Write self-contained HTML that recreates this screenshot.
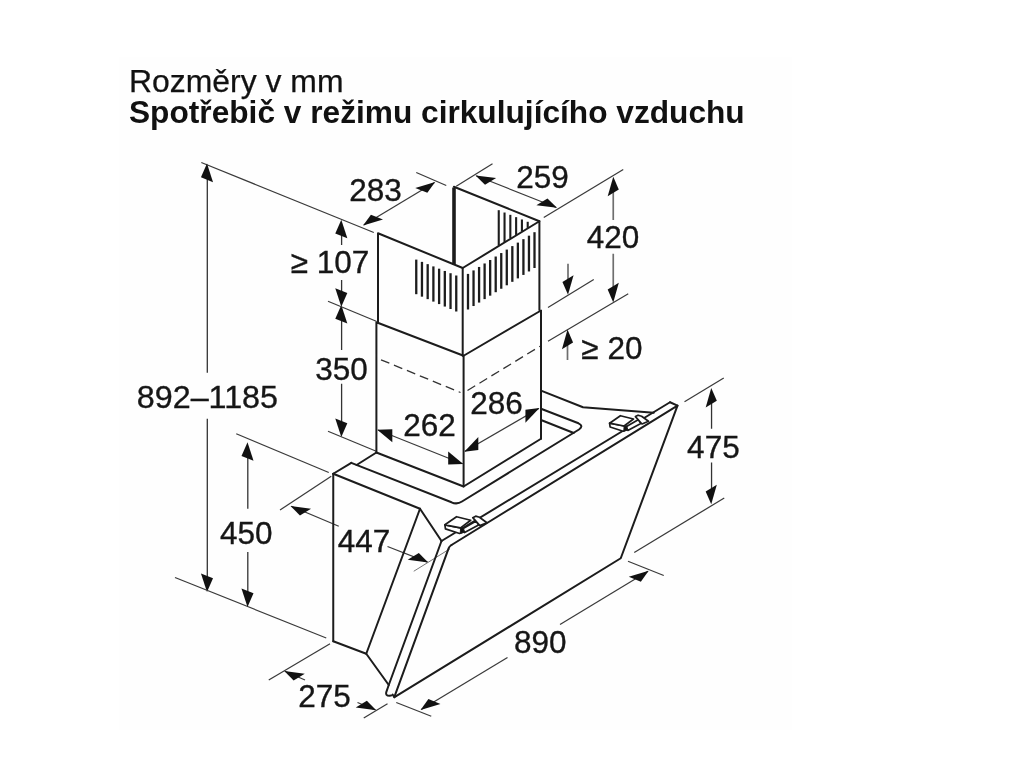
<!DOCTYPE html>
<html lang="cs">
<head>
<meta charset="utf-8">
<title>Rozměry v mm</title>
<style>
html,body{margin:0;padding:0;background:#fff;}
body{width:1024px;height:768px;overflow:hidden;position:relative;font-family:"Liberation Sans",sans-serif;}
.fig{position:absolute;left:0;top:0;width:1024px;height:768px;filter:blur(0.45px);}
.t1,.t2{filter:blur(0.45px);z-index:2;position:absolute;left:129px;margin:0;white-space:nowrap;color:#111;line-height:1;}
.t1{top:65.8px;font-size:30.5px;font-weight:normal;transform:scaleX(1.046);transform-origin:0 0;left:129.2px;-webkit-text-stroke:0.25px #111;}
.t2{top:96.6px;font-size:30.5px;font-weight:bold;transform:scaleX(1.038);transform-origin:0 0;left:129.4px;}
svg text{font-family:"Liberation Sans",sans-serif;fill:#161616;stroke:#161616;stroke-width:0.35px;}
</style>
</head>
<body>
<p class="t1">Rozměry v mm</p>
<p class="t2">Spotřebič v režimu cirkulujícího vzduchu</p>
<svg class="fig" width="1024" height="768" viewBox="0 0 1024 768">
<rect x="119" y="57" width="673" height="673" fill="#fefefe"/>
<line x1="201.30" y1="162.50" x2="373.80" y2="232.50" stroke="#3a3a3a" stroke-width="1.25" stroke-linecap="butt"/>
<line x1="207.30" y1="170.00" x2="207.30" y2="372.80" stroke="#333" stroke-width="1.3" stroke-linecap="butt"/>
<line x1="207.30" y1="418.75" x2="207.30" y2="585.00" stroke="#333" stroke-width="1.3" stroke-linecap="butt"/>
<polygon points="207.00,163.50 213.03,182.14 200.97,177.26" fill="#111" stroke="none"/>
<polygon points="207.00,592.05 213.03,578.29 200.97,573.41" fill="#111" stroke="none"/>
<line x1="175.00" y1="577.50" x2="326.25" y2="638.00" stroke="#3a3a3a" stroke-width="1.25" stroke-linecap="butt"/>
<line x1="341.60" y1="226.00" x2="341.60" y2="245.00" stroke="#333" stroke-width="1.3" stroke-linecap="butt"/>
<line x1="341.60" y1="280.00" x2="341.60" y2="300.00" stroke="#333" stroke-width="1.3" stroke-linecap="butt"/>
<polygon points="341.30,219.70 347.33,238.34 335.27,233.46" fill="#111" stroke="none"/>
<polygon points="341.30,306.80 347.33,293.04 335.27,288.16" fill="#111" stroke="none"/>
<line x1="341.60" y1="312.00" x2="341.60" y2="350.00" stroke="#333" stroke-width="1.3" stroke-linecap="butt"/>
<line x1="341.60" y1="383.75" x2="341.60" y2="430.00" stroke="#333" stroke-width="1.3" stroke-linecap="butt"/>
<polygon points="341.30,304.95 347.33,323.59 335.27,318.71" fill="#111" stroke="none"/>
<polygon points="341.30,437.05 347.33,423.29 335.27,418.41" fill="#111" stroke="none"/>
<line x1="328.00" y1="301.25" x2="376.25" y2="321.25" stroke="#3a3a3a" stroke-width="1.25" stroke-linecap="butt"/>
<line x1="328.00" y1="431.25" x2="376.25" y2="451.25" stroke="#3a3a3a" stroke-width="1.25" stroke-linecap="butt"/>
<line x1="363.75" y1="225.00" x2="434.50" y2="182.50" stroke="#3a3a3a" stroke-width="1.25" stroke-linecap="butt"/>
<polygon points="363.06,225.41 382.98,219.51 370.93,214.63" fill="#111" stroke="none"/>
<polygon points="435.19,182.09 427.32,192.87 415.27,187.99" fill="#111" stroke="none"/>
<line x1="416.25" y1="172.50" x2="446.25" y2="185.50" stroke="#3a3a3a" stroke-width="1.25" stroke-linecap="butt"/>
<line x1="476.25" y1="175.75" x2="556.25" y2="207.50" stroke="#3a3a3a" stroke-width="1.25" stroke-linecap="butt"/>
<polygon points="475.51,175.45 496.12,178.06 485.01,184.80" fill="#111" stroke="none"/>
<polygon points="556.99,207.80 547.49,198.45 536.38,205.19" fill="#111" stroke="none"/>
<line x1="456.25" y1="186.25" x2="492.50" y2="163.75" stroke="#3a3a3a" stroke-width="1.25" stroke-linecap="butt"/>
<line x1="543.75" y1="217.50" x2="623.25" y2="169.50" stroke="#3a3a3a" stroke-width="1.25" stroke-linecap="butt"/>
<line x1="613.25" y1="183.00" x2="613.25" y2="220.00" stroke="#6e6e6e" stroke-width="1.7" stroke-linecap="butt"/>
<line x1="613.25" y1="253.75" x2="613.25" y2="296.00" stroke="#6e6e6e" stroke-width="1.7" stroke-linecap="butt"/>
<polygon points="613.25,176.70 618.81,189.53 607.69,196.27" fill="#111" stroke="none"/>
<polygon points="613.25,302.40 618.81,282.83 607.69,289.57" fill="#111" stroke="none"/>
<line x1="548.00" y1="341.25" x2="628.25" y2="293.75" stroke="#3a3a3a" stroke-width="1.25" stroke-linecap="butt"/>
<line x1="548.00" y1="307.50" x2="593.75" y2="279.50" stroke="#3a3a3a" stroke-width="1.25" stroke-linecap="butt"/>
<line x1="568.00" y1="263.75" x2="568.00" y2="288.00" stroke="#6e6e6e" stroke-width="1.7" stroke-linecap="butt"/>
<polygon points="568.00,294.80 573.56,275.23 562.44,281.97" fill="#111" stroke="none"/>
<line x1="567.50" y1="337.00" x2="567.50" y2="360.00" stroke="#6e6e6e" stroke-width="1.7" stroke-linecap="butt"/>
<polygon points="567.50,329.60 573.06,342.43 561.94,349.17" fill="#111" stroke="none"/>
<line x1="378.00" y1="430.00" x2="462.50" y2="463.75" stroke="#3a3a3a" stroke-width="1.25" stroke-linecap="butt"/>
<polygon points="377.26,429.70 392.30,442.21 392.30,429.21" fill="#111" stroke="none"/>
<polygon points="463.24,464.05 448.20,464.54 448.20,451.54" fill="#111" stroke="none"/>
<line x1="465.00" y1="451.25" x2="538.75" y2="408.50" stroke="#3a3a3a" stroke-width="1.25" stroke-linecap="butt"/>
<polygon points="464.31,451.65 478.32,450.03 478.32,437.03" fill="#111" stroke="none"/>
<polygon points="539.44,408.10 525.43,422.72 525.43,409.72" fill="#111" stroke="none"/>
<line x1="711.55" y1="394.00" x2="711.55" y2="428.75" stroke="#333" stroke-width="1.3" stroke-linecap="butt"/>
<line x1="711.55" y1="462.50" x2="711.55" y2="498.00" stroke="#333" stroke-width="1.3" stroke-linecap="butt"/>
<polygon points="711.25,387.95 716.81,400.78 705.69,407.52" fill="#111" stroke="none"/>
<polygon points="711.25,504.30 716.81,484.73 705.69,491.47" fill="#111" stroke="none"/>
<line x1="684.50" y1="401.75" x2="723.75" y2="378.00" stroke="#3a3a3a" stroke-width="1.25" stroke-linecap="butt"/>
<line x1="634.25" y1="552.50" x2="724.25" y2="498.00" stroke="#3a3a3a" stroke-width="1.25" stroke-linecap="butt"/>
<line x1="247.80" y1="449.00" x2="247.80" y2="508.75" stroke="#333" stroke-width="1.3" stroke-linecap="butt"/>
<line x1="247.80" y1="552.00" x2="247.80" y2="600.00" stroke="#333" stroke-width="1.3" stroke-linecap="butt"/>
<polygon points="247.50,442.20 253.53,460.84 241.47,455.96" fill="#111" stroke="none"/>
<polygon points="247.50,607.05 253.53,593.29 241.47,588.41" fill="#111" stroke="none"/>
<line x1="236.25" y1="433.75" x2="328.75" y2="472.50" stroke="#3a3a3a" stroke-width="1.25" stroke-linecap="butt"/>
<line x1="291.25" y1="506.25" x2="338.75" y2="526.25" stroke="#3a3a3a" stroke-width="1.25" stroke-linecap="butt"/>
<line x1="387.50" y1="546.50" x2="427.50" y2="562.10" stroke="#3a3a3a" stroke-width="1.25" stroke-linecap="butt"/>
<polygon points="290.51,505.95 311.06,508.72 299.94,515.47" fill="#111" stroke="none"/>
<polygon points="428.24,562.40 418.81,552.88 407.69,559.63" fill="#111" stroke="none"/>
<line x1="331.25" y1="476.25" x2="280.00" y2="510.00" stroke="#3a3a3a" stroke-width="1.25" stroke-linecap="butt"/>
<line x1="413.75" y1="571.25" x2="450.00" y2="548.75" stroke="#777" stroke-width="1.0" stroke-linecap="butt"/>
<line x1="330.00" y1="643.75" x2="268.75" y2="680.00" stroke="#3a3a3a" stroke-width="1.25" stroke-linecap="butt"/>
<line x1="285.00" y1="671.25" x2="305.00" y2="680.00" stroke="#3a3a3a" stroke-width="1.25" stroke-linecap="butt"/>
<line x1="357.50" y1="702.50" x2="375.50" y2="710.00" stroke="#3a3a3a" stroke-width="1.25" stroke-linecap="butt"/>
<polygon points="284.26,670.94 304.76,673.84 293.64,680.59" fill="#111" stroke="none"/>
<polygon points="376.24,710.31 366.86,700.66 355.74,707.41" fill="#111" stroke="none"/>
<line x1="363.75" y1="718.00" x2="387.50" y2="703.75" stroke="#3a3a3a" stroke-width="1.25" stroke-linecap="butt"/>
<line x1="421.25" y1="709.50" x2="507.50" y2="657.50" stroke="#3a3a3a" stroke-width="1.25" stroke-linecap="butt"/>
<line x1="560.00" y1="624.50" x2="648.00" y2="571.25" stroke="#3a3a3a" stroke-width="1.25" stroke-linecap="butt"/>
<polygon points="420.56,709.91 440.46,703.99 428.41,699.10" fill="#111" stroke="none"/>
<polygon points="648.68,570.84 640.85,581.67 628.80,576.78" fill="#111" stroke="none"/>
<line x1="396.25" y1="702.50" x2="431.25" y2="716.25" stroke="#3a3a3a" stroke-width="1.25" stroke-linecap="butt"/>
<line x1="628.00" y1="561.25" x2="663.75" y2="575.50" stroke="#3a3a3a" stroke-width="1.25" stroke-linecap="butt"/>
<polyline points="378.00,322.50 378.00,233.25 462.70,268.00 539.40,221.25 539.40,310.00" fill="none" stroke="#1c1c1c" stroke-width="2.0" stroke-linejoin="round" stroke-linecap="round"/>
<line x1="462.70" y1="268.00" x2="462.70" y2="355.75" stroke="#1c1c1c" stroke-width="2.0" stroke-linecap="round"/>
<line x1="453.90" y1="186.75" x2="539.40" y2="221.25" stroke="#1c1c1c" stroke-width="2.0" stroke-linecap="round"/>
<line x1="454.00" y1="187.50" x2="454.00" y2="264.50" stroke="#1c1c1c" stroke-width="3.6" stroke-linecap="butt"/>
<polyline points="376.40,452.50 376.40,322.20 463.60,355.75 541.00,310.50 541.00,438.75" fill="none" stroke="#1c1c1c" stroke-width="2.0" stroke-linejoin="round" stroke-linecap="round"/>
<line x1="463.60" y1="355.75" x2="463.60" y2="486.50" stroke="#1c1c1c" stroke-width="2.0" stroke-linecap="round"/>
<polyline points="376.40,452.50 463.60,486.50 541.00,438.75" fill="none" stroke="#1c1c1c" stroke-width="2.0" stroke-linejoin="round" stroke-linecap="round"/>
<line x1="381.00" y1="359.80" x2="460.50" y2="392.50" stroke="#333" stroke-width="1.3" stroke-linecap="butt" stroke-dasharray="9 5"/>
<line x1="467.50" y1="390.50" x2="540.00" y2="346.25" stroke="#333" stroke-width="1.3" stroke-linecap="butt" stroke-dasharray="9 5"/>
<line x1="416.25" y1="259.60" x2="416.25" y2="294.20" stroke="#1c1c1c" stroke-width="2.3" stroke-linecap="butt"/>
<line x1="421.96" y1="261.87" x2="421.96" y2="296.67" stroke="#1c1c1c" stroke-width="2.3" stroke-linecap="butt"/>
<line x1="427.68" y1="264.14" x2="427.68" y2="299.14" stroke="#1c1c1c" stroke-width="2.3" stroke-linecap="butt"/>
<line x1="433.39" y1="266.41" x2="433.39" y2="301.61" stroke="#1c1c1c" stroke-width="2.3" stroke-linecap="butt"/>
<line x1="439.11" y1="268.69" x2="439.11" y2="304.09" stroke="#1c1c1c" stroke-width="2.3" stroke-linecap="butt"/>
<line x1="444.82" y1="270.96" x2="444.82" y2="306.56" stroke="#1c1c1c" stroke-width="2.3" stroke-linecap="butt"/>
<line x1="450.54" y1="273.23" x2="450.54" y2="309.03" stroke="#1c1c1c" stroke-width="2.3" stroke-linecap="butt"/>
<line x1="456.25" y1="275.50" x2="456.25" y2="311.50" stroke="#1c1c1c" stroke-width="2.3" stroke-linecap="butt"/>
<line x1="468.00" y1="273.90" x2="468.00" y2="309.50" stroke="#1c1c1c" stroke-width="2.3" stroke-linecap="butt"/>
<line x1="473.54" y1="270.42" x2="473.54" y2="306.04" stroke="#1c1c1c" stroke-width="2.3" stroke-linecap="butt"/>
<line x1="479.08" y1="266.95" x2="479.08" y2="302.58" stroke="#1c1c1c" stroke-width="2.3" stroke-linecap="butt"/>
<line x1="484.62" y1="263.47" x2="484.62" y2="299.12" stroke="#1c1c1c" stroke-width="2.3" stroke-linecap="butt"/>
<line x1="490.17" y1="260.00" x2="490.17" y2="295.67" stroke="#1c1c1c" stroke-width="2.3" stroke-linecap="butt"/>
<line x1="495.71" y1="256.52" x2="495.71" y2="292.21" stroke="#1c1c1c" stroke-width="2.3" stroke-linecap="butt"/>
<line x1="501.25" y1="253.05" x2="501.25" y2="288.75" stroke="#1c1c1c" stroke-width="2.3" stroke-linecap="butt"/>
<line x1="506.79" y1="249.57" x2="506.79" y2="285.29" stroke="#1c1c1c" stroke-width="2.3" stroke-linecap="butt"/>
<line x1="512.33" y1="246.10" x2="512.33" y2="281.83" stroke="#1c1c1c" stroke-width="2.3" stroke-linecap="butt"/>
<line x1="517.88" y1="242.62" x2="517.88" y2="278.38" stroke="#1c1c1c" stroke-width="2.3" stroke-linecap="butt"/>
<line x1="523.42" y1="239.15" x2="523.42" y2="274.92" stroke="#1c1c1c" stroke-width="2.3" stroke-linecap="butt"/>
<line x1="528.96" y1="235.67" x2="528.96" y2="271.46" stroke="#1c1c1c" stroke-width="2.3" stroke-linecap="butt"/>
<line x1="534.50" y1="232.20" x2="534.50" y2="268.00" stroke="#1c1c1c" stroke-width="2.3" stroke-linecap="butt"/>
<line x1="498.75" y1="210.20" x2="498.75" y2="245.50" stroke="#1c1c1c" stroke-width="2.1" stroke-linecap="butt"/>
<line x1="504.54" y1="212.52" x2="504.54" y2="242.00" stroke="#1c1c1c" stroke-width="2.1" stroke-linecap="butt"/>
<line x1="510.33" y1="214.83" x2="510.33" y2="238.47" stroke="#1c1c1c" stroke-width="2.1" stroke-linecap="butt"/>
<line x1="516.12" y1="217.15" x2="516.12" y2="234.94" stroke="#1c1c1c" stroke-width="2.1" stroke-linecap="butt"/>
<line x1="521.92" y1="219.47" x2="521.92" y2="231.41" stroke="#1c1c1c" stroke-width="2.1" stroke-linecap="butt"/>
<line x1="527.71" y1="221.78" x2="527.71" y2="227.88" stroke="#1c1c1c" stroke-width="2.1" stroke-linecap="butt"/>
<line x1="533.50" y1="224.10" x2="533.50" y2="224.35" stroke="#1c1c1c" stroke-width="2.1" stroke-linecap="butt"/>
<line x1="333.25" y1="473.75" x2="333.25" y2="641.25" stroke="#1c1c1c" stroke-width="2.0" stroke-linecap="round"/>
<polyline points="333.25,473.75 351.30,462.90" fill="none" stroke="#1c1c1c" stroke-width="2.0" stroke-linejoin="round" stroke-linecap="round"/>
<path d="M351.3,462.9 L451.5,502.3 Q457,504.8 462,501.5 L579,429.5 Q584,426 578.5,423.3 L541,408.75" fill="none" stroke="#1c1c1c" stroke-width="2.0" stroke-linejoin="round" stroke-linecap="round"/>
<line x1="356.60" y1="465.00" x2="376.40" y2="452.50" stroke="#1c1c1c" stroke-width="2.0" stroke-linecap="round"/>
<line x1="541.00" y1="420.00" x2="573.75" y2="433.00" stroke="#1c1c1c" stroke-width="2.0" stroke-linecap="round"/>
<polyline points="333.25,473.75 420.00,508.75 441.50,541.00" fill="none" stroke="#1c1c1c" stroke-width="2.0" stroke-linejoin="round" stroke-linecap="round"/>
<line x1="420.00" y1="508.75" x2="366.25" y2="653.75" stroke="#1c1c1c" stroke-width="2.0" stroke-linecap="round"/>
<polyline points="333.25,641.25 366.25,653.75 388.75,685.00" fill="none" stroke="#1c1c1c" stroke-width="2.0" stroke-linejoin="round" stroke-linecap="round"/>
<path d="M441.5,541 L388.75,685 L386.2,692.3 Q385.4,695.8 389.3,695.8 L391.2,695.5" fill="none" stroke="#1c1c1c" stroke-width="2.0" stroke-linejoin="round" stroke-linecap="round"/>
<path d="M451.5,545 Q449.3,546.3 448.6,548.3 L394.3,697.2 L392.6,694.5" fill="none" stroke="#1c1c1c" stroke-width="2.0" stroke-linejoin="round" stroke-linecap="round"/>
<line x1="441.50" y1="541.00" x2="670.00" y2="402.25" stroke="#1c1c1c" stroke-width="2.0" stroke-linecap="round"/>
<polyline points="451.50,545.00 677.50,405.60 620.75,558.25 394.50,697.20" fill="none" stroke="#1c1c1c" stroke-width="2.0" stroke-linejoin="round" stroke-linecap="round"/>
<line x1="670.00" y1="402.25" x2="677.50" y2="405.60" stroke="#1c1c1c" stroke-width="2.0" stroke-linecap="round"/>
<polyline points="541.00,390.60 583.00,407.25 653.75,412.75" fill="none" stroke="#1c1c1c" stroke-width="2.0" stroke-linejoin="round" stroke-linecap="round"/>
<polygon points="609.60,423.20 610.10,427.00 623.20,431.20 627.20,429.80 624.10,426.00" fill="#fff" stroke="#1c1c1c" stroke-width="1.7" stroke-linejoin="round"/>
<polygon points="626.10,426.80 638.60,419.60 640.80,423.50 627.80,430.40" fill="#fff" stroke="#1c1c1c" stroke-width="1.7" stroke-linejoin="round"/>
<polygon points="635.40,416.60 638.10,415.20 641.60,416.20 648.50,421.30 642.00,424.00" fill="#fff" stroke="#1c1c1c" stroke-width="1.7" stroke-linejoin="round"/>
<polygon points="609.60,423.20 620.40,415.70 633.50,419.00 624.10,426.00" fill="#fff" stroke="#1c1c1c" stroke-width="1.7" stroke-linejoin="round"/>
<polygon points="624.10,426.40 626.80,425.80 627.40,429.80 623.80,431.20" fill="#111" stroke="#1c1c1c" stroke-width="1.0" stroke-linejoin="round"/>
<polygon points="444.90,524.80 445.44,528.90 459.59,533.44 463.91,531.93 460.56,527.82" fill="#fff" stroke="#1c1c1c" stroke-width="1.7" stroke-linejoin="round"/>
<polygon points="462.72,528.69 476.22,520.91 478.60,525.12 464.56,532.58" fill="#fff" stroke="#1c1c1c" stroke-width="1.7" stroke-linejoin="round"/>
<polygon points="472.76,517.67 475.68,516.16 479.46,517.24 486.91,522.75 479.89,525.66" fill="#fff" stroke="#1c1c1c" stroke-width="1.7" stroke-linejoin="round"/>
<polygon points="444.90,524.80 456.56,516.70 470.71,520.26 460.56,527.82" fill="#fff" stroke="#1c1c1c" stroke-width="1.7" stroke-linejoin="round"/>
<polygon points="460.56,528.26 463.48,527.61 464.12,531.93 460.24,533.44" fill="#111" stroke="#1c1c1c" stroke-width="1.0" stroke-linejoin="round"/>
<text x="375.60" y="201.25" font-size="31.5" font-weight="normal" text-anchor="middle">283</text>
<text x="542.50" y="187.50" font-size="31.5" font-weight="normal" text-anchor="middle">259</text>
<text x="613.10" y="248.25" font-size="31.5" font-weight="normal" text-anchor="middle">420</text>
<text x="330.00" y="273.25" font-size="31.5" font-weight="normal" text-anchor="middle">≥ 107</text>
<text x="611.90" y="359.25" font-size="31.5" font-weight="normal" text-anchor="middle">≥ 20</text>
<text x="341.50" y="380.00" font-size="31.5" font-weight="normal" text-anchor="middle">350</text>
<text x="496.60" y="413.50" font-size="31.5" font-weight="normal" text-anchor="middle">286</text>
<text x="429.60" y="435.50" font-size="31.5" font-weight="normal" text-anchor="middle">262</text>
<text x="207.40" y="407.90" font-size="31.5" font-weight="normal" text-anchor="middle" transform="translate(207.40 0) scale(1.025 1) translate(-207.40 0)">892–1185</text>
<text x="713.40" y="457.50" font-size="31.5" font-weight="normal" text-anchor="middle">475</text>
<text x="246.25" y="543.75" font-size="31.5" font-weight="normal" text-anchor="middle">450</text>
<text x="364.00" y="551.75" font-size="31.5" font-weight="normal" text-anchor="middle">447</text>
<text x="540.25" y="653.00" font-size="31.5" font-weight="normal" text-anchor="middle">890</text>
<text x="324.60" y="706.75" font-size="31.5" font-weight="normal" text-anchor="middle">275</text>
</svg>
</body>
</html>
